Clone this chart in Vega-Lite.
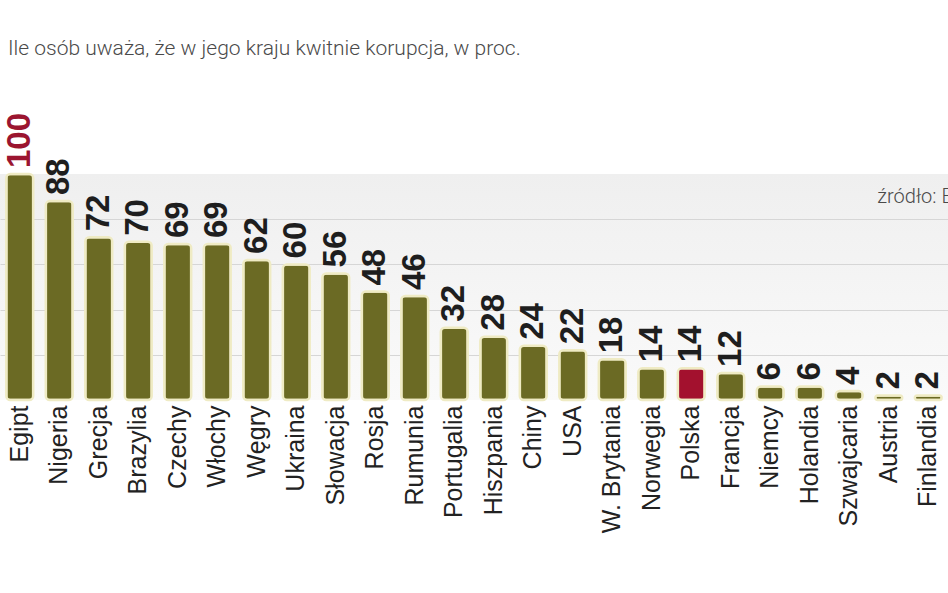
{
  "$schema": "https://vega.github.io/schema/vega-lite/v6.json",
  "autosize": "none",
  "width": 948,
  "height": 226,
  "padding": {"top": 174, "bottom": 193, "left": 0, "right": 0},
  "background": "white",
  "config": {
    "view": {
      "stroke": null,
      "fill": {"gradient": "linear", "x1": 0, "y1": 0, "x2": 0, "y2": 1, "stops": [{"offset": 0, "color": "#efefef"}, {"offset": 1, "color": "#fafafa"}]}
    }
  },
  "title": {
    "text": "Ile osób uważa, że w jego kraju kwitnie korupcja, w proc.",
    "anchor": "start",
    "frame": "group",
    "font": "Roboto",
    "fontSize": 21,
    "fontWeight": 300,
    "color": "#4a4a4a",
    "dx": 8,
    "offset": 54
  },
  "data": {
    "values": [
      {"kraj": "Egipt", "proc": 100, "grupa": "inne"},
      {"kraj": "Nigeria", "proc": 88, "grupa": "inne"},
      {"kraj": "Grecja", "proc": 72, "grupa": "inne"},
      {"kraj": "Brazylia", "proc": 70, "grupa": "inne"},
      {"kraj": "Czechy", "proc": 69, "grupa": "inne"},
      {"kraj": "Włochy", "proc": 69, "grupa": "inne"},
      {"kraj": "Węgry", "proc": 62, "grupa": "inne"},
      {"kraj": "Ukraina", "proc": 60, "grupa": "inne"},
      {"kraj": "Słowacja", "proc": 56, "grupa": "inne"},
      {"kraj": "Rosja", "proc": 48, "grupa": "inne"},
      {"kraj": "Rumunia", "proc": 46, "grupa": "inne"},
      {"kraj": "Portugalia", "proc": 32, "grupa": "inne"},
      {"kraj": "Hiszpania", "proc": 28, "grupa": "inne"},
      {"kraj": "Chiny", "proc": 24, "grupa": "inne"},
      {"kraj": "USA", "proc": 22, "grupa": "inne"},
      {"kraj": "W. Brytania", "proc": 18, "grupa": "inne"},
      {"kraj": "Norwegia", "proc": 14, "grupa": "inne"},
      {"kraj": "Polska", "proc": 14, "grupa": "Polska"},
      {"kraj": "Francja", "proc": 12, "grupa": "inne"},
      {"kraj": "Niemcy", "proc": 6, "grupa": "inne"},
      {"kraj": "Holandia", "proc": 6, "grupa": "inne"},
      {"kraj": "Szwajcaria", "proc": 4, "grupa": "inne"},
      {"kraj": "Austria", "proc": 2, "grupa": "inne"},
      {"kraj": "Finlandia", "proc": 2, "grupa": "inne"}
    ]
  },
  "encoding": {
    "x": {
      "field": "kraj",
      "type": "nominal",
      "sort": null,
      "scale": {"paddingInner": 0.32, "paddingOuter": 0.16},
      "axis": {
        "title": null,
        "domain": false,
        "ticks": false,
        "labelAngle": -90,
        "labelPadding": 5,
        "labelFont": "Liberation Sans",
        "labelFontSize": 25,
        "labelColor": "#222222",
        "labelLimit": 200
      }
    },
    "y": {
      "field": "proc",
      "type": "quantitative",
      "scale": {"domain": [0, 100], "nice": false},
      "axis": {
        "title": null,
        "labels": false,
        "ticks": false,
        "domain": false,
        "values": [20, 40, 60, 80],
        "grid": true,
        "gridColor": "#d6d6d6",
        "gridWidth": 1
      }
    }
  },
  "layer": [
    {
      "mark": {"type": "bar", "cornerRadius": 4, "stroke": "#efebc4", "strokeWidth": 2.5},
      "encoding": {
        "color": {
          "field": "grupa",
          "type": "nominal",
          "scale": {"domain": ["inne", "Polska"], "range": ["#6b6a24", "#a3112e"]},
          "legend": null
        }
      }
    },
    {
      "mark": {
        "type": "text",
        "angle": -90,
        "align": "left",
        "baseline": "middle",
        "dx": 6,
        "font": "Liberation Sans",
        "fontSize": 33,
        "fontWeight": "bold"
      },
      "encoding": {
        "text": {"field": "proc", "type": "quantitative"},
        "color": {
          "condition": {"test": "datum.kraj === 'Egipt'", "value": "#9b1530"},
          "value": "#1e1e1e"
        }
      }
    },
    {
      "data": {"values": [{"kraj": "Austria", "proc": 90, "tekst": "źródło: Ernst & Young"}]},
      "mark": {
        "type": "text",
        "align": "left",
        "baseline": "middle",
        "dx": 2,
        "font": "Roboto",
        "fontSize": 20,
        "fontWeight": 300,
        "color": "#4a4a4a"
      },
      "encoding": {
        "x": {"field": "kraj", "type": "nominal", "bandPosition": 0},
        "text": {"field": "tekst"}
      }
    }
  ]
}
